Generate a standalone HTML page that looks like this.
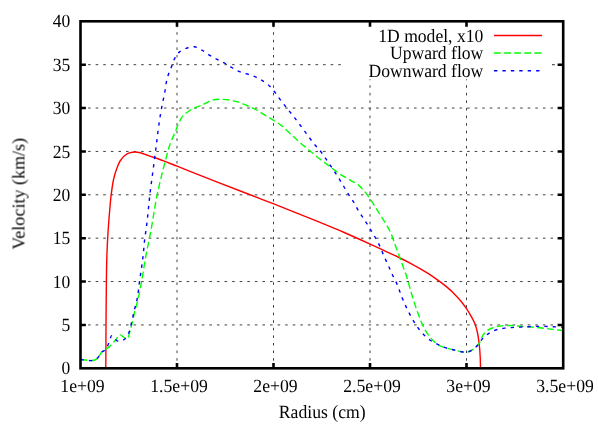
<!DOCTYPE html><html><head><meta charset="utf-8"><style>html,body{margin:0;padding:0;background:#fff}svg{display:block}text{font-family:"Liberation Serif",serif;fill:#000;text-rendering:geometricPrecision}</style></head><body>
<svg width="598" height="425" viewBox="0 0 598 425">
<rect width="598" height="425" fill="#fff"/>
<g stroke="#000" stroke-width="1.0" stroke-opacity="0.75" stroke-dasharray="2.6 4.98" fill="none">
<path d="M80.50,324.93 H563.00"/>
<path d="M80.50,281.55 H563.00"/>
<path d="M80.50,238.18 H563.00"/>
<path d="M80.50,194.80 H563.00"/>
<path d="M80.50,151.43 H563.00"/>
<path d="M80.50,108.05 H563.00"/>
<path d="M80.50,64.68 H563.00"/>
<path d="M177.00,368.30 V21.30"/>
<path d="M273.50,368.30 V21.30"/>
<path d="M370.00,368.30 V21.30"/>
<path d="M466.50,368.30 V21.30"/>
</g>
<rect x="341" y="22" width="211.3" height="57.3" fill="#fff"/>
<path d="M552.3,64.68 H563.00" stroke="#000" stroke-width="1.0" stroke-opacity="0.75" stroke-dasharray="2.6 4.98" fill="none"/>
<g fill="none" stroke-width="1.4" stroke-linejoin="round">
<path stroke="#f00" d="M105.80,368.10 C105.83,361.73 105.87,355.37 105.90,349.00 C105.94,341.00 105.95,333.00 106.00,325.00 C106.05,317.00 106.13,309.00 106.20,301.00 C106.26,294.07 106.30,287.13 106.40,280.20 C106.52,271.83 106.61,263.46 106.90,255.10 C107.18,247.06 107.58,239.03 108.10,231.00 C108.55,224.06 109.09,217.13 109.70,210.20 C110.16,205.00 110.53,199.78 111.20,194.60 C111.97,188.60 112.65,182.54 114.20,176.70 C114.94,173.90 115.77,171.11 116.80,168.40 C117.76,165.88 118.66,163.25 120.10,161.00 C121.46,158.87 123.08,156.68 125.10,155.20 C126.58,154.12 128.34,153.23 130.10,152.70 C131.72,152.21 133.50,152.00 135.20,152.00 C136.87,152.00 138.56,152.35 140.20,152.70 C143.05,153.31 145.73,154.63 148.50,155.60 C153.53,157.36 158.60,159.04 163.60,160.90 C168.13,162.59 172.60,164.43 177.10,166.20 C181.40,167.89 185.70,169.60 190.00,171.30 C209.34,178.93 228.71,186.50 248.10,194.00 C256.66,197.31 265.25,200.56 273.80,203.90 C282.55,207.32 291.27,210.82 300.00,214.30 C306.67,216.96 313.36,219.58 320.00,222.30 C326.69,225.04 333.36,227.84 340.00,230.70 C346.69,233.58 353.36,236.51 360.00,239.50 C366.69,242.51 373.34,245.62 380.00,248.70 C386.67,251.79 393.41,254.74 400.00,258.00 C403.35,259.66 406.69,261.35 410.00,263.10 C413.36,264.88 416.71,266.70 420.00,268.60 C423.72,270.75 427.43,272.92 431.00,275.30 C433.55,276.99 436.04,278.79 438.50,280.60 C441.48,282.80 444.48,285.00 447.30,287.40 C450.08,289.77 452.75,292.28 455.30,294.90 C457.27,296.93 459.20,299.02 461.00,301.20 C462.95,303.57 464.79,306.05 466.50,308.60 C468.23,311.18 469.81,313.87 471.30,316.60 C472.62,319.02 474.00,321.44 475.00,324.00 C475.94,326.42 476.61,328.97 477.20,331.50 C477.82,334.13 478.21,336.82 478.60,339.50 C479.01,342.32 479.34,345.16 479.60,348.00 C479.88,350.99 480.05,354.00 480.20,357.00 C480.38,360.76 480.40,364.53 480.50,368.30"/>
<path stroke="#0f0" stroke-dasharray="6.74 3.37" d="M80.50,359.60 C82.27,359.73 84.04,359.83 85.80,360.00 C87.57,360.17 89.34,360.68 91.10,360.60 C92.34,360.54 93.69,360.48 94.80,360.00 C95.92,359.52 96.92,358.58 97.80,357.70 C98.68,356.82 99.40,355.75 100.10,354.70 C100.68,353.83 100.95,352.68 101.70,352.00 C102.30,351.46 103.19,351.24 103.90,350.80 C104.67,350.32 105.37,349.74 106.10,349.20 C107.22,348.36 108.35,347.52 109.40,346.60 C111.89,344.44 113.99,341.83 116.10,339.30 C117.38,337.77 118.36,334.77 119.80,334.60 C121.15,334.44 122.67,337.19 124.40,337.80 C125.37,338.14 126.73,338.67 127.50,338.40 C128.65,337.99 128.68,335.48 129.20,334.00 C130.24,331.00 130.92,327.88 131.70,324.80 C132.38,322.11 132.96,319.40 133.60,316.70 C134.19,314.20 134.76,311.69 135.40,309.20 C135.91,307.23 136.49,305.27 137.00,303.30 C138.96,295.69 140.35,287.93 141.80,280.20 C143.37,271.87 144.42,263.43 146.00,255.10 C147.05,249.52 148.31,243.98 149.40,238.40 C149.95,235.60 150.47,232.80 151.00,230.00 C153.21,218.23 154.75,206.32 157.20,194.60 C159.63,182.99 162.50,171.45 165.60,160.00 C167.10,154.48 168.34,148.86 170.30,143.50 C171.75,139.52 173.70,135.73 175.30,131.80 C176.43,129.01 177.28,126.09 178.60,123.40 C180.02,120.51 181.30,117.30 183.60,115.10 C184.53,114.21 185.64,113.46 186.70,112.70 C188.83,111.16 191.07,109.70 193.40,108.50 C196.04,107.14 199.00,106.45 201.70,105.20 C203.43,104.40 205.07,103.41 206.80,102.60 C208.96,101.58 211.11,100.37 213.40,99.80 C216.08,99.13 219.00,99.25 221.80,99.30 C224.60,99.35 227.43,99.64 230.20,100.10 C233.00,100.57 235.80,101.24 238.50,102.10 C241.37,103.01 244.12,104.31 246.90,105.50 C249.72,106.71 252.58,107.88 255.30,109.30 C258.16,110.79 260.84,112.63 263.60,114.30 C266.40,116.00 269.22,117.67 272.00,119.40 C274.68,121.07 277.46,122.63 280.00,124.50 C283.62,127.16 286.76,130.47 290.10,133.50 C293.46,136.54 296.69,139.72 300.10,142.70 C303.36,145.55 306.76,148.24 310.10,151.00 C313.43,153.74 316.71,156.54 320.10,159.20 C323.38,161.77 326.77,164.20 330.10,166.70 C333.43,169.20 336.63,171.91 340.10,174.20 C343.35,176.35 346.85,178.11 350.20,180.10 C352.98,181.75 356.01,183.08 358.50,185.10 C360.32,186.58 361.94,188.34 363.50,190.10 C365.35,192.20 366.97,194.52 368.60,196.80 C370.35,199.24 371.96,201.78 373.60,204.30 C375.58,207.34 377.47,210.43 379.40,213.50 C380.77,215.67 382.17,217.81 383.50,220.00 C385.84,223.84 388.29,227.65 390.20,231.70 C392.23,236.00 393.53,240.63 395.20,245.10 C396.87,249.57 398.56,254.02 400.20,258.50 C401.62,262.39 403.01,266.30 404.40,270.20 C405.20,272.47 406.05,274.72 406.80,277.00 C408.39,281.83 409.45,286.82 410.90,291.70 C412.23,296.19 413.60,300.67 415.10,305.10 C416.42,309.03 417.79,312.94 419.30,316.80 C420.62,320.17 421.86,323.59 423.50,326.80 C424.97,329.70 426.59,332.58 428.50,335.20 C430.01,337.28 431.66,339.31 433.50,341.10 C435.04,342.59 436.66,344.14 438.50,345.20 C440.50,346.36 442.87,346.89 445.10,347.60 C447.82,348.47 450.62,349.10 453.40,349.80 C456.19,350.50 458.96,351.41 461.80,351.80 C463.45,352.03 465.19,352.43 466.80,352.20 C468.53,351.95 470.26,351.08 471.80,350.20 C473.69,349.12 475.39,347.58 476.90,346.00 C478.12,344.72 479.28,343.30 480.20,341.80 C481.46,339.76 481.67,337.07 483.00,335.10 C484.29,333.18 486.10,331.42 488.00,330.10 C489.98,328.73 492.39,327.84 494.70,327.10 C497.39,326.24 500.28,325.85 503.10,325.60 C505.85,325.36 508.64,325.52 511.40,325.60 C514.20,325.68 517.00,325.90 519.80,326.10 C522.60,326.30 525.40,326.58 528.20,326.80 C530.97,327.02 533.74,327.14 536.50,327.40 C539.31,327.67 542.10,328.07 544.90,328.40 C547.70,328.73 550.50,329.07 553.30,329.40 C556.67,329.80 560.03,330.20 563.40,330.60"/>
<path stroke="#00f" stroke-dasharray="3.37 5.05" d="M80.50,359.60 C82.27,359.73 84.04,359.83 85.80,360.00 C87.57,360.17 89.34,360.68 91.10,360.60 C92.34,360.54 93.69,360.48 94.80,360.00 C95.92,359.52 96.92,358.58 97.80,357.70 C98.68,356.82 99.40,355.75 100.10,354.70 C100.68,353.83 100.95,352.68 101.70,352.00 C102.30,351.46 103.21,351.26 103.90,350.80 C104.69,350.28 105.49,349.69 106.10,349.00 C107.17,347.79 107.55,346.02 108.20,344.50 C108.69,343.35 109.12,342.16 109.60,341.00 C110.34,339.19 110.67,335.30 111.90,335.60 C112.49,335.74 113.32,336.85 114.00,337.50 C115.12,338.58 115.83,340.37 117.20,340.90 C118.02,341.22 119.09,341.28 120.00,341.20 C121.06,341.11 122.15,340.69 123.10,340.20 C124.17,339.66 125.19,338.87 126.00,338.00 C127.02,336.89 127.64,335.38 128.30,334.00 C129.67,331.13 130.17,327.88 131.00,324.80 C132.39,319.65 133.32,314.38 134.60,309.20 C135.28,306.46 136.09,303.75 136.70,301.00 C138.23,294.17 138.71,287.14 139.70,280.20 C140.89,271.84 142.25,263.49 143.20,255.10 C143.83,249.54 144.10,243.95 144.80,238.40 C145.24,234.93 145.83,231.47 146.30,228.00 C147.80,216.90 148.58,205.72 149.90,194.60 C151.27,183.05 152.90,171.53 154.40,160.00 C154.97,155.63 155.54,151.27 156.10,146.90 C156.95,140.20 157.65,133.48 158.60,126.80 C159.50,120.49 160.45,114.17 161.60,107.90 C162.53,102.82 163.72,97.78 164.70,92.70 C165.72,87.41 166.06,81.94 167.60,76.80 C168.70,73.12 170.39,69.60 171.80,66.00 C172.90,63.20 173.59,60.17 175.10,57.60 C176.26,55.63 177.61,53.59 179.30,52.10 C181.17,50.45 183.64,49.29 186.00,48.40 C188.61,47.41 191.63,46.40 194.30,46.70 C196.93,47.00 199.47,48.78 201.90,50.10 C204.81,51.67 207.35,53.90 210.20,55.60 C212.93,57.22 215.78,58.63 218.60,60.10 C220.82,61.26 223.12,62.28 225.30,63.50 C227.52,64.74 229.60,66.22 231.80,67.50 C234.00,68.79 236.18,70.18 238.50,71.20 C241.18,72.38 244.12,72.96 246.90,73.90 C249.72,74.85 252.59,75.70 255.30,76.90 C257.88,78.05 260.42,79.38 262.80,80.90 C265.15,82.39 267.49,83.99 269.50,85.90 C271.36,87.66 272.90,89.78 274.50,91.80 C276.43,94.23 278.13,96.82 280.00,99.30 C281.67,101.52 283.39,103.71 285.10,105.90 C288.39,110.10 291.84,114.18 295.10,118.40 C298.51,122.81 301.76,127.34 305.10,131.80 C308.46,136.27 311.61,140.91 315.20,145.20 C316.79,147.10 318.53,148.88 320.10,150.80 C323.78,155.29 326.82,160.29 330.10,165.10 C332.36,168.41 334.63,171.73 336.80,175.10 C339.11,178.69 341.29,182.36 343.50,186.00 C345.18,188.76 346.77,191.57 348.50,194.30 C350.11,196.84 351.95,199.23 353.50,201.80 C355.01,204.30 356.22,206.98 357.70,209.50 C359.99,213.41 362.67,217.07 365.10,220.90 C367.37,224.48 369.63,228.06 371.80,231.70 C374.10,235.56 376.48,239.39 378.50,243.40 C380.69,247.74 382.31,252.36 384.30,256.80 C385.93,260.45 387.67,264.05 389.30,267.70 C390.38,270.13 391.38,272.59 392.50,275.00 C393.82,277.84 395.42,280.55 396.70,283.40 C398.64,287.71 399.91,292.31 401.70,296.70 C403.30,300.64 404.95,304.57 406.80,308.40 C408.59,312.10 410.51,315.76 412.60,319.30 C414.45,322.44 416.30,325.61 418.50,328.50 C420.28,330.85 422.20,333.14 424.30,335.20 C426.14,337.00 428.10,338.73 430.20,340.20 C432.53,341.84 435.13,343.14 437.70,344.40 C440.11,345.59 442.57,346.72 445.10,347.60 C447.79,348.54 450.62,349.10 453.40,349.80 C456.19,350.50 458.96,351.41 461.80,351.80 C463.45,352.03 465.19,352.43 466.80,352.20 C468.53,351.95 470.26,351.08 471.80,350.20 C473.69,349.12 475.38,347.57 476.90,346.00 C478.59,344.25 479.69,341.94 481.30,340.10 C482.86,338.31 484.54,336.57 486.40,335.10 C487.96,333.86 489.64,332.72 491.40,331.80 C493.50,330.71 495.81,329.92 498.10,329.30 C500.28,328.71 502.55,328.38 504.80,328.10 C506.99,327.82 509.20,327.75 511.40,327.60 C514.20,327.41 517.00,327.23 519.80,327.10 C522.60,326.97 525.40,326.92 528.20,326.80 C530.97,326.68 533.73,326.47 536.50,326.40 C539.30,326.33 542.10,326.33 544.90,326.40 C547.70,326.47 550.50,326.68 553.30,326.80 C556.67,326.95 560.03,327.07 563.40,327.20"/>
<path stroke="#f00" d="M494,35.5 H542"/>
<path stroke="#0f0" stroke-dasharray="6.74 3.37" d="M494,52.95 H542"/>
<path stroke="#00f" stroke-dasharray="3.37 5.05" d="M494,70.7 H542"/>
</g>
<g stroke="#000" stroke-width="2.6" fill="none">
<rect x="80.50" y="21.30" width="482.70" height="347.00"/>
<path d="M80.50,324.93 h5.40 M563.00,324.93 h-5.40"/>
<path d="M80.50,281.55 h5.40 M563.00,281.55 h-5.40"/>
<path d="M80.50,238.18 h5.40 M563.00,238.18 h-5.40"/>
<path d="M80.50,194.80 h5.40 M563.00,194.80 h-5.40"/>
<path d="M80.50,151.43 h5.40 M563.00,151.43 h-5.40"/>
<path d="M80.50,108.05 h5.40 M563.00,108.05 h-5.40"/>
<path d="M80.50,64.68 h5.40 M563.00,64.68 h-5.40"/>
<path d="M177.00,368.30 v-5.40 M177.00,21.30 v5.40"/>
<path d="M273.50,368.30 v-5.40 M273.50,21.30 v5.40"/>
<path d="M370.00,368.30 v-5.40 M370.00,21.30 v5.40"/>
<path d="M466.50,368.30 v-5.40 M466.50,21.30 v5.40"/>
</g>
<g opacity="0.999">
<text transform="translate(70.20,374.40) scale(0.9409,1)" font-size="18.60" text-anchor="end">0</text>
<text transform="translate(70.20,331.03) scale(0.9409,1)" font-size="18.60" text-anchor="end">5</text>
<text transform="translate(70.20,287.65) scale(0.9409,1)" font-size="18.60" text-anchor="end">10</text>
<text transform="translate(70.20,244.28) scale(0.9409,1)" font-size="18.60" text-anchor="end">15</text>
<text transform="translate(70.20,200.90) scale(0.9409,1)" font-size="18.60" text-anchor="end">20</text>
<text transform="translate(70.20,157.53) scale(0.9409,1)" font-size="18.60" text-anchor="end">25</text>
<text transform="translate(70.20,114.15) scale(0.9409,1)" font-size="18.60" text-anchor="end">30</text>
<text transform="translate(70.20,70.78) scale(0.9409,1)" font-size="18.60" text-anchor="end">35</text>
<text transform="translate(70.20,27.40) scale(0.9409,1)" font-size="18.60" text-anchor="end">40</text>
<text transform="translate(82.50,392.10) scale(0.9516,1)" font-size="18.60" text-anchor="middle">1e+09</text>
<text transform="translate(179.00,392.10) scale(0.9516,1)" font-size="18.60" text-anchor="middle">1.5e+09</text>
<text transform="translate(275.50,392.10) scale(0.9516,1)" font-size="18.60" text-anchor="middle">2e+09</text>
<text transform="translate(372.00,392.10) scale(0.9516,1)" font-size="18.60" text-anchor="middle">2.5e+09</text>
<text transform="translate(468.50,392.10) scale(0.9516,1)" font-size="18.60" text-anchor="middle">3e+09</text>
<text transform="translate(565.00,392.10) scale(0.9516,1)" font-size="18.60" text-anchor="middle">3.5e+09</text>
<text transform="translate(322.20,417.70) scale(0.9489,1)" font-size="18.60" text-anchor="middle">Radius (cm)</text>
<text transform="translate(24.50,193.80) rotate(-90) scale(0.9945,1)" font-size="18.15" text-anchor="middle">Velocity (km/s)</text>
<text transform="translate(483.30,41.80) scale(0.9462,1)" font-size="18.60" text-anchor="end">1D model, x10</text>
<text transform="translate(483.30,59.20) scale(0.9462,1)" font-size="18.60" text-anchor="end">Upward flow</text>
<text transform="translate(483.30,77.00) scale(0.9462,1)" font-size="18.60" text-anchor="end">Downward flow</text>
</g>
</svg></body></html>
